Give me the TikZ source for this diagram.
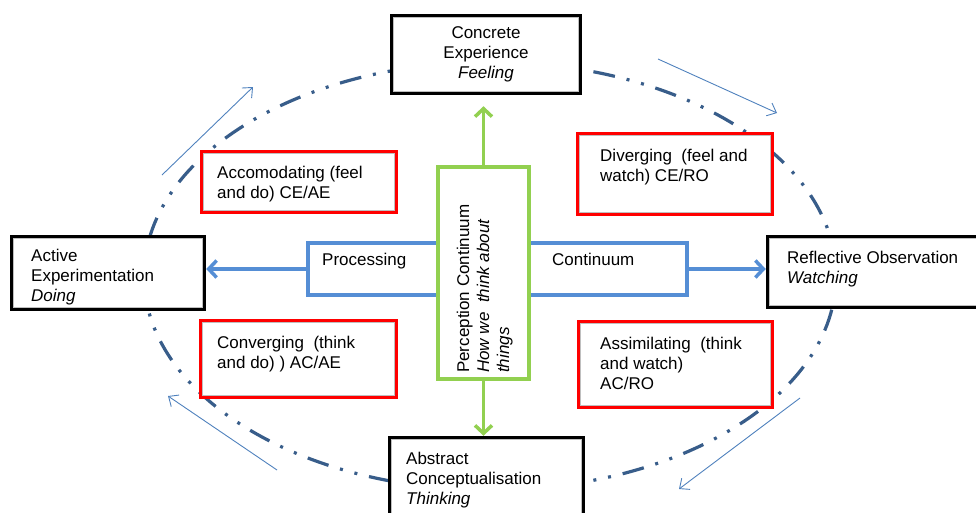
\documentclass[tikz,border=0pt]{standalone}
\usepackage{fontspec}
\setmainfont{Liberation Sans}
\usetikzlibrary{arrows.meta}
\definecolor{ellblue}{RGB}{56,93,138}
\definecolor{accblue}{RGB}{79,129,189}
\definecolor{procblue}{RGB}{85,142,213}
\definecolor{grn}{RGB}{146,208,80}
\newcommand{\innerframe}[1]{\draw[innerline] ([shift={(3.5,3.5)}]#1.north west) rectangle ([shift={(-3.5,-3.5)}]#1.south east);}
\begin{document}
\begin{tikzpicture}[x=1pt,y=-1pt,
 txt/.style={font=\fontsize{17pt}{20pt}\selectfont, inner sep=0pt, align=left, anchor=base west},
 blackbox/.style={draw=black, line width=4.5pt, fill=white, inner sep=0pt},
 redbox/.style={draw=red, line width=4pt, fill=white, inner sep=0pt},
 procbox/.style={draw=procblue, line width=3.5pt, fill=white, inner sep=0pt},
 percbox/.style={draw=grn, line width=3.5pt, fill=white, inner sep=0pt},
 cycleline/.style={draw=ellblue, line width=3.2pt, dash pattern=on 22pt off 12pt on 3pt off 12pt on 3pt off 12pt},
 flowarrow/.style={draw=accblue, line width=0.9pt, -{Straight Barb[length=8pt,width=14pt]}},
 procarrow/.style={draw=procblue, line width=3.5pt, -{Straight Barb[length=8pt,width=17pt]}},
 percarrow/.style={draw=grn, line width=3.5pt, -{Straight Barb[length=8pt,width=17pt]}},
 innerline/.style={draw=black!25, line width=0.9pt}
]
\useasboundingbox (0,0) rectangle (976,512);
\clip (0,0) rectangle (976,512);

% learning cycle
\draw[cycleline] (490,276) ellipse [x radius=346pt, y radius=214pt];

% direction arrows
\coordinate (f1s) at (162,175); \coordinate (f1e) at (253,87);
\coordinate (f2s) at (658,59);  \coordinate (f2e) at (777,113);
\coordinate (f3s) at (800,398); \coordinate (f3e) at (679,489);
\coordinate (f4s) at (277,470); \coordinate (f4e) at (168,396);
\draw[flowarrow] (f1s) -- (f1e);
\draw[flowarrow] (f2s) -- (f2e);
\draw[flowarrow] (f3s) -- (f3e);
\draw[flowarrow] (f4s) -- (f4e);

% processing continuum
\node[procbox, minimum width=136pt, minimum height=52pt] (proc) at (376,269) {};
\node[procbox, minimum width=161pt, minimum height=52pt] (cont) at (606.5,269) {};
\node[txt] (proctxt) at (322,265) {Processing};
\node[txt] (conttxt) at (552,265) {Continuum};

% perception continuum
\node[percbox, minimum width=91pt, minimum height=212pt] (perc) at (483.5,273) {};
\node[txt, rotate=90] (perctxt) at (509,373) {Perception Continuum\\\textit{How we\ \ think about}\\\textit{things}};

% four modes
\node[blackbox, minimum width=188pt, minimum height=77pt] (ce) at (486,54.5) {};
\node[blackbox, minimum width=192pt, minimum height=72pt] (ae) at (108,273) {};
\node[blackbox, minimum width=225pt, minimum height=70pt] (ro) at (880.5,272) {};
\node[blackbox, minimum width=193pt, minimum height=85pt] (ac) at (486.5,480.5) {};
\innerframe{ce}\innerframe{ae}\innerframe{ro}\innerframe{ac}
\node[txt, align=center, anchor=base] (cetxt) at (486,78) {Concrete\\Experience\\\textit{Feeling}};
\node[txt] (aetxt) at (31,301) {Active\\Experimentation\\\textit{Doing}};
\node[txt] (rotxt) at (787,283) {Reflective Observation\\\textit{Watching}};
\node[txt] (actxt) at (406,504) {Abstract\\Conceptualisation\\\textit{Thinking}};

% learning styles
\node[redbox, minimum width=194pt, minimum height=60pt] (acc) at (298.5,181.5) {};
\node[redbox, minimum width=194pt, minimum height=80pt] (div) at (674.5,173.5) {};
\node[redbox, minimum width=193pt, minimum height=85pt] (asm) at (675,364) {};
\node[redbox, minimum width=195pt, minimum height=76pt] (con) at (298,358.5) {};
\innerframe{acc}\innerframe{div}\innerframe{asm}\innerframe{con}
\node[txt] (acctxt) at (217,198) {Accomodating (feel\\and do) CE/AE};
\node[txt] (divtxt) at (600,181) {Diverging\ \ (feel and\\watch) CE/RO};
\node[txt] (asmtxt) at (600,389) {Assimilating\ \ (think\\and watch)\\AC/RO};
\node[txt] (contxt) at (217,368) {Converging\ \ (think\\and do) ) AC/AE};

% arrows
\draw[procarrow] (proc.west) -- (proc.west -| ae.east);
\draw[procarrow] (cont.east) -- (cont.east -| ro.west);
\draw[percarrow, shorten >=11pt] (perc.north) -- (perc.north |- ce.south);
\draw[percarrow] (perc.south) -- (perc.south |- ac.north);
\end{tikzpicture}
\end{document}
